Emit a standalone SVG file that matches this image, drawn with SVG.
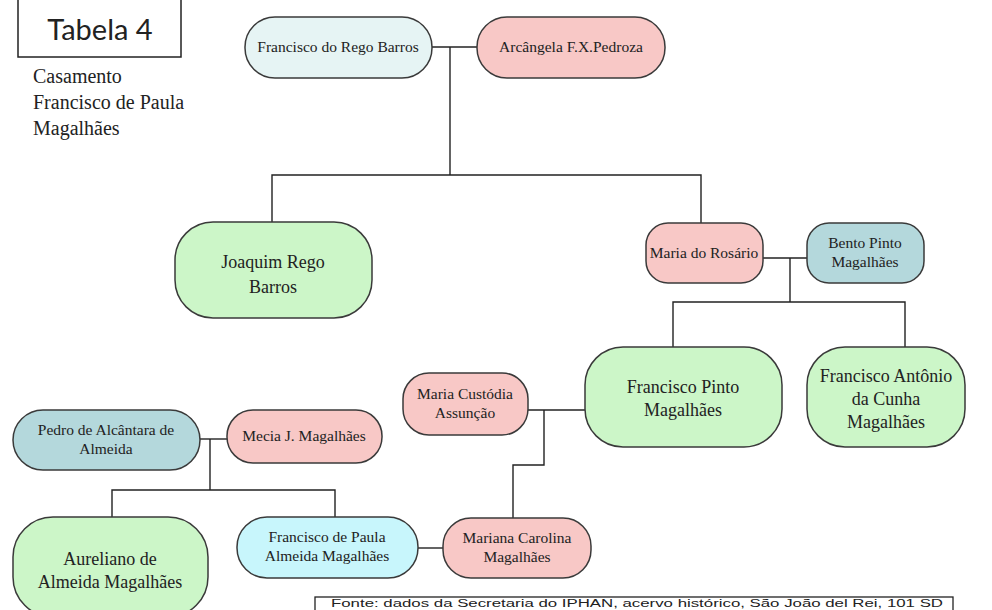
<svg xmlns="http://www.w3.org/2000/svg" width="992" height="610" viewBox="0 0 992 610">
<style>
.n{stroke:#3a3a3a;stroke-width:1.5}
.pink{fill:#f8c8c6}
.green{fill:#ccf6c8}
.teal{fill:#b4d8dc}
.pale{fill:#e6f4f4}
.cyan{fill:#c8f6fc}
text{font-family:"Liberation Serif","Times New Roman",serif;fill:#222;text-anchor:middle}
.s{font-size:15.5px}
.b{font-size:18px}
.c line,.c polyline{stroke:#222;stroke-width:1.4;fill:none}
</style>
<rect width="992" height="610" fill="#ffffff"/>
<g id="title">
<rect x="18" y="-1" width="163" height="58" fill="#fff" stroke="#222" stroke-width="1.5"/>
<text x="100" y="40" style="font-family:Lato,'Open Sans',sans-serif;font-size:29px">Tabela 4</text>
</g>
<g id="subtitle">
<text x="33" y="83" style="font-size:20px;text-anchor:start">Casamento</text>
<text x="33" y="109" style="font-size:20px;text-anchor:start">Francisco de Paula</text>
<text x="33" y="135" style="font-size:20px;text-anchor:start">Magalhães</text>
</g>
<g class="c" id="connectors">
<line x1="432" y1="47" x2="477" y2="47"/>
<polyline points="450,47 450,175"/>
<polyline points="272,222 272,175 701,175 701,223"/>
<line x1="763" y1="258" x2="807" y2="258"/>
<polyline points="790,258 790,302"/>
<polyline points="673,347 673,302 905,302 905,347"/>
<line x1="528" y1="410" x2="585" y2="410"/>
<polyline points="544,410 544,465 513,465 513,518"/>
<line x1="418" y1="548" x2="443" y2="548"/>
<line x1="200" y1="439" x2="227" y2="439"/>
<polyline points="210,439 210,490"/>
<polyline points="112,517 112,490 335,490 335,517"/>
</g>
<g id="n-francisco-rego-barros">
<rect class="n pale" x="245" y="17" width="187" height="61" rx="30"/>
<text class="s" x="338" y="52">Francisco do Rego Barros</text>
</g>
<g id="n-arcangela">
<rect class="n pink" x="477" y="17" width="188" height="61" rx="30"/>
<text class="s" x="571" y="52">Arcângela F.X.Pedroza</text>
</g>
<g id="n-joaquim">
<rect class="n green" x="175" y="222" width="197" height="96" rx="38"/>
<text class="b" x="273" y="268">Joaquim Rego</text>
<text class="b" x="273" y="293">Barros</text>
</g>
<g id="n-maria-rosario">
<rect class="n pink" x="646" y="223" width="117" height="60" rx="22"/>
<text class="s" x="704" y="258">Maria do Rosário</text>
</g>
<g id="n-bento">
<rect class="n teal" x="807" y="223" width="117" height="60" rx="22"/>
<text class="s" x="865" y="248">Bento Pinto</text>
<text class="s" x="865" y="267">Magalhães</text>
</g>
<g id="n-francisco-pinto">
<rect class="n green" x="585" y="347" width="197" height="100" rx="38"/>
<text class="b" x="683" y="393">Francisco Pinto</text>
<text class="b" x="683" y="416">Magalhães</text>
</g>
<g id="n-francisco-antonio">
<rect class="n green" x="807" y="347" width="158" height="100" rx="38"/>
<text class="b" x="886" y="382">Francisco Antônio</text>
<text class="b" x="886" y="405">da Cunha</text>
<text class="b" x="886" y="428">Magalhães</text>
</g>
<g id="n-maria-custodia">
<rect class="n pink" x="403" y="373" width="125" height="62" rx="26"/>
<text class="s" x="465" y="399">Maria Custódia</text>
<text class="s" x="465" y="418">Assunção</text>
</g>
<g id="n-pedro">
<rect class="n teal" x="13" y="410" width="187" height="60" rx="30"/>
<text class="s" x="106" y="435">Pedro de Alcântara de</text>
<text class="s" x="106" y="454">Almeida</text>
</g>
<g id="n-mecia">
<rect class="n pink" x="227" y="410" width="155" height="53" rx="26"/>
<text class="s" x="304" y="441">Mecia J. Magalhães</text>
</g>
<g id="n-aureliano">
<rect class="n green" x="13" y="517" width="195" height="100" rx="40"/>
<text class="b" x="110" y="565">Aureliano de</text>
<text class="b" x="110" y="588">Almeida Magalhães</text>
</g>
<g id="n-francisco-paula">
<rect class="n cyan" x="237" y="517" width="181" height="61" rx="30"/>
<text class="s" x="327" y="542">Francisco de Paula</text>
<text class="s" x="327" y="561">Almeida Magalhães</text>
</g>
<g id="n-mariana">
<rect class="n pink" x="443" y="518" width="148" height="60" rx="28"/>
<text class="s" x="517" y="543">Mariana Carolina</text>
<text class="s" x="517" y="562">Magalhães</text>
</g>
<g id="footer">
<rect x="315" y="597" width="638" height="30" fill="#fff" stroke="#222" stroke-width="1.3"/>
<text x="331" y="607" textLength="612" lengthAdjust="spacingAndGlyphs" style="font-family:'Liberation Sans',Arial,sans-serif;font-size:10px;text-anchor:start">Fonte: dados da Secretaria do IPHAN, acervo histórico, São João del Rei, 101 SD</text>
</g>
</svg>
